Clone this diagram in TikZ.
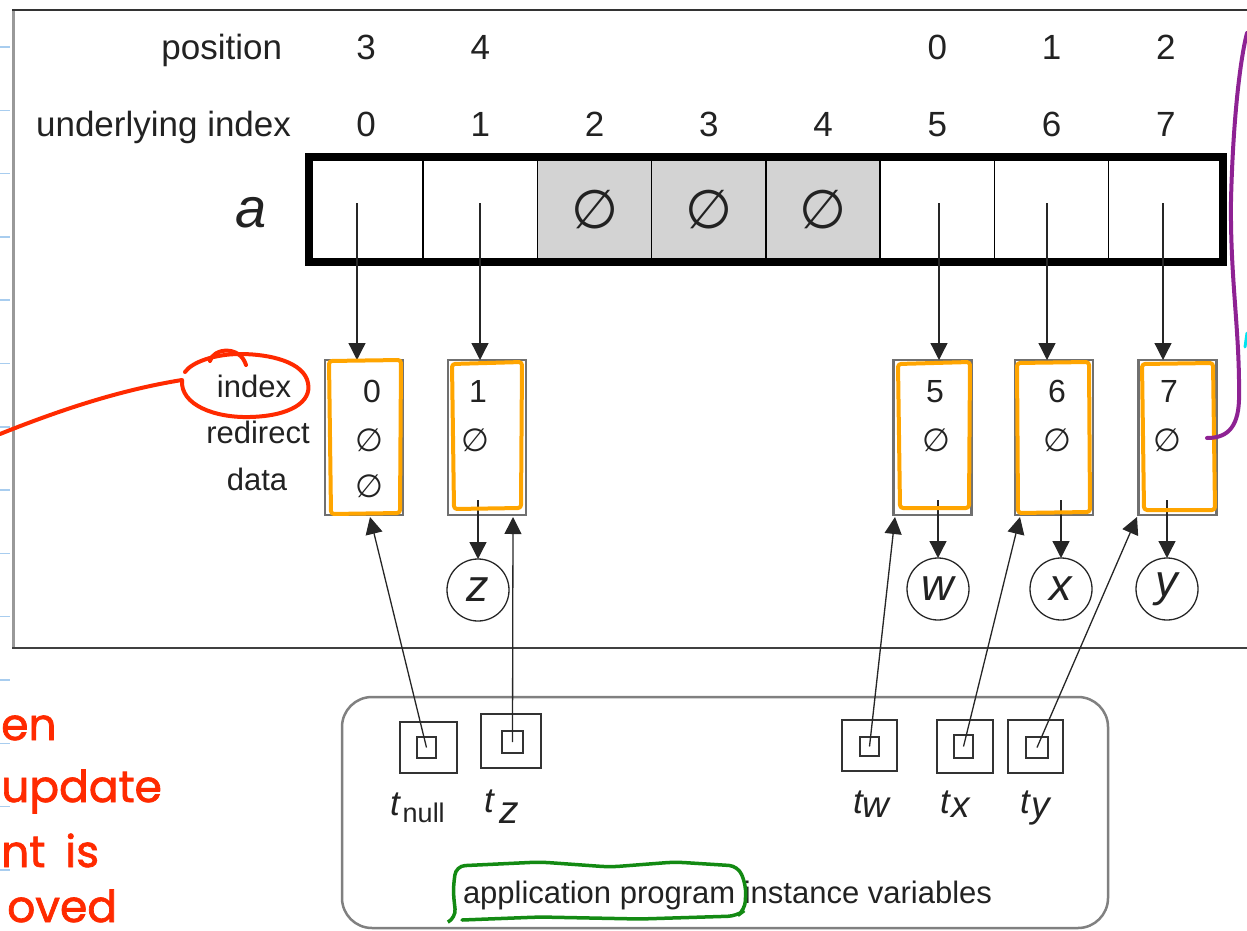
\documentclass[tikz,border=0pt]{standalone}
\usepackage{fontspec}
\setmainfont{Liberation Sans}
\newfontfamily\symfont{DejaVu Sans}
\newfontfamily\handfont[FakeBold=1.6]{Poppins}
\usetikzlibrary{arrows.meta,calc}
\definecolor{ink}{HTML}{222222}
\definecolor{cellgray}{HTML}{D3D3D3}
\definecolor{boxgray}{HTML}{707070}
\definecolor{hlorange}{HTML}{FFA500}
\definecolor{penred}{HTML}{FF2A00}
\definecolor{penpurple}{HTML}{8E2293}
\definecolor{pengreen}{HTML}{138A13}
\definecolor{rulerblue}{HTML}{A8CDEF}
\definecolor{pencyan}{HTML}{00E5F0}
\newcommand{\fs}[1]{\fontsize{#1}{#1}\selectfont}
\newcommand{\nullmark}{{\symfont ∅}}

\begin{document}
\begin{tikzpicture}[x=1pt,y=-1pt,
  every node/.style={inner sep=0pt, outer sep=0pt, text=ink},
  toplabel/.style={font=\fs{35}, anchor=base},
  fieldlabel/.style={font=\fs{31}, anchor=base},
  fieldvalue/.style={font=\fs{32}, anchor=base},
  nullvalue/.style={font=\fs{32}},
  cellbox/.style={draw=black, line width=1.5pt, minimum width=114.25pt, minimum height=105pt},
  freecell/.style={cellbox, fill=cellgray, font=\fs{54}},
  recbox/.style={draw=boxgray, line width=2.5pt, minimum width=78pt, minimum height=155pt},
  datum/.style={circle, draw=black!85, line width=1.3pt, minimum size=62pt, font=\fs{45}\itshape},
  ptr/.style={-{Triangle[width=17pt,length=17pt]}, line width=1.3pt, draw=black!85},
  holder/.style={draw=black!80, line width=1.8pt},
  tlabel/.style={anchor=base west, font=\fs{35}\itshape},
  orange mark/.style={draw=hlorange, line width=4pt, rounded corners=3pt, line join=round},
  pen/.style={line width=4pt, line cap=round, line join=round},
]
\useasboundingbox (0,0) rectangle (1247,931);

% ruled notebook ticks along the left margin
\foreach \k in {0,...,13}
  \draw[rulerblue, line width=1.5pt] (0,{47+63.3*\k}) -- (10,{47+63.3*\k});

% outer frame
\draw[black!40, line width=3.5pt] (13.5,9) -- (13.5,649);
\draw[black!80, line width=2pt] (12,10) -- (1247,10);
\draw[black!75, line width=2pt] (12,648) -- (1247,648);

% row captions
\node[toplabel, anchor=base east] (poscap) at (282,60) {position};
\node[toplabel, anchor=base east] (idxcap) at (291,137) {underlying index};
\node[anchor=base west, font=\fs{56}\itshape] (arrname) at (235,227) {a};

% the underlying array
\foreach \i in {0,1,5,6,7}
  \node[cellbox] (c\i) at ({366.1+114.25*\i},209.5) {};
\foreach \i in {2,3,4}
  \node[freecell] (c\i) at ({366.1+114.25*\i},209.5) {\nullmark};
\draw[line width=8pt] (c0.north west) rectangle (c7.south east);

% index numbers
\foreach \i in {0,...,7}
  \node[toplabel] (ix\i) at ({366.1+114.25*\i},137) {\i};
% logical positions
\foreach \i/\p in {0/3,1/4,5/0,6/1,7/2}
  \node[toplabel] (ps\i) at ({366.1+114.25*\i},60) {\p};

% item records
\node[recbox] (b0) at (364,437.5) {};
\node[recbox] (b1) at (487,437.5) {};
\node[recbox] (b5) at (932.5,437.5) {};
\node[recbox] (b6) at (1054,437.5) {};
\node[recbox] (b7) at (1177.5,437.5) {};

% field names
\node[fieldlabel] (fidx) at (254,397) {index};
\node[fieldlabel] (fred) at (258,443) {redirect};
\node[fieldlabel] (fdat) at (257,490) {data};

% field values
\node[fieldvalue] (v0) at (372,402) {0};
\node[nullvalue]  (r0) at (369,440) {\nullmark};
\node[nullvalue]  (d0) at (369,486) {\nullmark};
\node[fieldvalue] (v1) at (478,402) {1};
\node[nullvalue]  (r1) at (475,440) {\nullmark};
\node[fieldvalue] (v5) at (935,402) {5};
\node[nullvalue]  (r5) at (936,440) {\nullmark};
\node[fieldvalue] (v6) at (1057,402) {6};
\node[nullvalue]  (r6) at (1057,440) {\nullmark};
\node[fieldvalue] (v7) at (1169,402) {7};
\node[nullvalue]  (r7) at (1167,440) {\nullmark};

% array slots point to their records
\coordinate (s0) at (357,203);
\coordinate (s1) at (480,203);
\coordinate (s5) at (939,203);
\coordinate (s6) at (1047,203);
\coordinate (s7) at (1163,203);
\foreach \i in {0,1,5,6,7}
  \draw[ptr] (s\i) -- (s\i |- b\i.north);

% data values
\node[datum] (dz) at (478,590) {z};
\node[datum] (dw) at (938,589) {w};
\node[datum] (dx) at (1061,589) {x};
\node[datum] (dy) at (1167,589) {y};
\coordinate (o1) at (478,500);
\coordinate (o5) at (938,500);
\coordinate (o6) at (1061,500);
\coordinate (o7) at (1167,500);
\draw[ptr] (o1) -- (dz.north);
\draw[ptr] (o5) -- (dw.north);
\draw[ptr] (o6) -- (dx.north);
\draw[ptr] (o7) -- (dy.north);

% application program container
\node[draw=black!50, line width=2.5pt, rounded corners=30pt,
      minimum width=766pt, minimum height=231pt] (app) at (725,812.5) {};
\node[anchor=base west, font=\fs{31}] (apptext) at (463,903)
  {application program instance variables};

% tracker variables
\node[holder, minimum width=57pt, minimum height=51pt] (hn) at (428.5,747.5) {};
\node[holder, minimum width=19pt, minimum height=21pt] (in) at (426.5,747.5) {};
\node[holder, minimum width=60pt, minimum height=54pt] (hz) at (511,741) {};
\node[holder, minimum width=21pt, minimum height=22pt] (iz) at (512.5,742) {};
\node[holder, minimum width=55pt, minimum height=51pt] (hw) at (869.5,745.5) {};
\node[holder, minimum width=19pt, minimum height=19pt] (iw) at (869.5,746.5) {};
\node[holder, minimum width=56pt, minimum height=53pt] (hx) at (965,746.5) {};
\node[holder, minimum width=19pt, minimum height=23pt] (ix) at (963.5,746.5) {};
\node[holder, minimum width=55pt, minimum height=53pt] (hy) at (1035.5,746.5) {};
\node[holder, minimum width=22pt, minimum height=21pt] (iy) at (1037,747.5) {};

\node[tlabel] (tn) at (390,815) {t\kern3pt\raisebox{-7pt}{\upshape\fs{27}null}};
\node[tlabel] (tz) at (484,812) {t\kern6pt\raisebox{-11pt}{\fs{39}z}};
\node[tlabel] (tw) at (853,813) {t\raisebox{-4pt}{\fs{37}w}};
\node[tlabel] (tx) at (940,813) {t\kern2pt\raisebox{-4pt}{\fs{37}x}};
\node[tlabel] (ty) at (1020,813) {t\kern2pt\raisebox{-4pt}{\fs{37}y}};

% trackers point at records
\draw[ptr] (in.center) -- ($(b0.south)+(6,2)$);
\draw[ptr] (iz.center) -- ($(b1.south east)+(-13,2)$);
\draw[ptr] (iw.center) -- ($(b5.south west)+(1.5,2)$);
\draw[ptr] (ix.center) -- ($(b6.south west)+(5,2)$);
\draw[ptr] (iy.center) -- ($(b7.south west)+(-1.5,2)$);

% ---- pen annotations ----
% orange outlines over the records
\draw[orange mark] (329,361) -- (401,360) -- (400,513) -- (331,514) -- cycle;
\draw[orange mark] (452,364) -- (522,362) -- (521,508) -- (454,509) -- cycle;
\draw[orange mark] (898,364) -- (970,362) -- (969,508) -- (900,508) -- cycle;
\draw[orange mark] (1017,363) -- (1089,362) -- (1090,512) -- (1018,513) -- cycle;
\draw[orange mark] (1142,364) -- (1213,363) -- (1215,510) -- (1144,510) -- cycle;

% red circle round the index field and its lead line
\draw[penred, pen] (0,434) .. controls (60,410) and (120,390) .. (182,380)
  .. controls (180,405) and (215,418) .. (250,417)
  .. controls (290,416) and (312,402) .. (308,383)
  .. controls (304,362) and (270,354) .. (240,354)
  .. controls (215,354) and (192,362) .. (185,372);
\draw[penred, pen] (210,361) .. controls (213,348) and (240,345) .. (246,365);

% red handwritten note
\begin{scope}[every node/.style={anchor=base west, inner sep=0pt, text=penred,
    text depth=0pt, font=\handfont\fs{44}}]
  \node (n1) at (1,740) {en};
  \node (n2) at (1,802) {update};
  \node (n3) at (1,867) {nt\hspace{20pt}is};
  \node (n4) at (7,922) {oved};
\end{scope}

% purple bracket on the right
\draw[penpurple, pen] (1247,33) .. controls (1240,60) and (1233,120) .. (1231,200)
  .. controls (1230,280) and (1240,330) .. (1239,400)
  .. controls (1238,430) and (1225,438) .. (1207,438);
\draw[pencyan, line width=3pt, line cap=round] (1247,333) -- (1245,347);

% green outline round "application program"
\draw[pengreen, line width=3.5pt, rounded corners=9pt, line cap=round]
  (448,922) -- (456,918) -- (453,890) -- (456,866) -- (540,862) -- (610,867)
  -- (675,862) -- (738,866) -- (746,885) -- (745,910) -- (737,916)
  -- (640,919) -- (540,917) -- (462,920);
\end{tikzpicture}
\end{document}
